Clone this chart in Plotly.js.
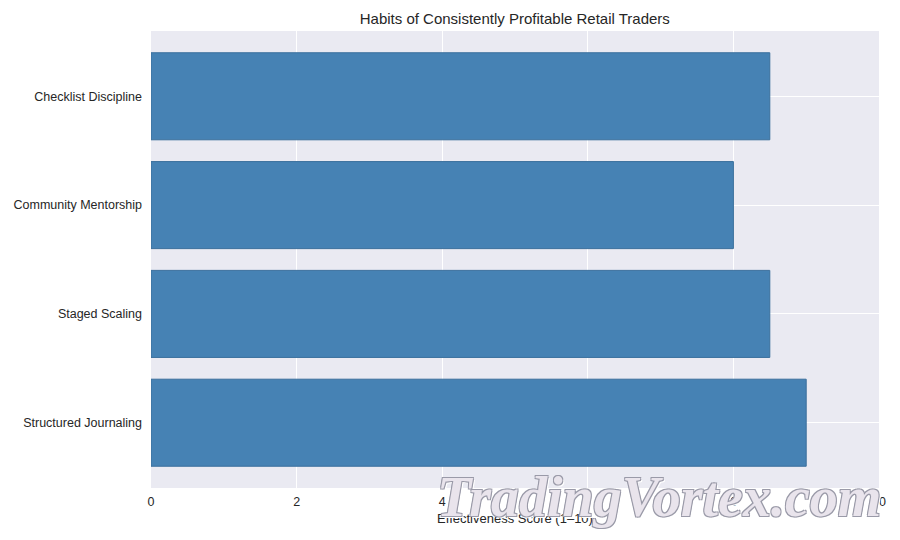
<!DOCTYPE html>
<html>
<head>
<meta charset="utf-8">
<script src="https://cdn.plot.ly/plotly-3.0.1.min.js"></script>
<style>html,body{margin:0;padding:0;background:#fff;}#chart{width:900px;height:540px;}</style>
</head>
<body>
<div id="chart"></div>
<script>
const categories = ["Structured Journaling", "Staged Scaling", "Community Mentorship", "Checklist Discipline"];
const scores = [9.0, 8.5, 8.0, 8.5];
const xTicks = [0, 2, 4, 6, 8, 10];

const trace = {
  type: "bar",
  orientation: "h",
  y: categories,
  x: scores,
  width: 0.8,
  marker: { color: "#4682B4", line: { color: "#3a6f9c", width: 1 } },
  hoverinfo: "x+y"
};

const layout = {
  width: 900, height: 540,
  margin: { l: 151, r: 21, t: 31, b: 52 },
  paper_bgcolor: "#ffffff",
  plot_bgcolor: "#EAEAF2",
  font: { family: "Liberation Sans, Arial, sans-serif", size: 12.5, color: "#262626" },
  title: { text: "Habits of Consistently Profitable Retail Traders", x: 0.572, xanchor: "center", y: 0.965, yanchor: "middle", font: { size: 15, color: "#262626" } },
  bargap: 0.2,
  xaxis: {
    range: [0, 10], tickvals: xTicks, ticktext: xTicks.map(String),
    showgrid: true, gridcolor: "#ffffff", gridwidth: 1, zeroline: false,
    showline: false, ticks: "", ticklabelstandoff: 4,
    title: { text: "Effectiveness Score (1–10)", standoff: 6, font: { size: 13 } }
  },
  yaxis: {
    range: [-0.6, 3.6], type: "category",
    showgrid: true, gridcolor: "#ffffff", gridwidth: 1, zeroline: false,
    showline: false, ticks: "", ticklabelstandoff: 8
  },
  showlegend: false,
  annotations: [{
    text: "<b><i>TradingVortex.com</i></b>", xref: "paper", yref: "paper",
    x: 1.006, y: -0.02, xanchor: "right", yanchor: "middle", showarrow: false,
    font: { family: "Liberation Serif, serif", size: 56, color: "#e9e4ec",
      shadow: "1px 1px 0 #9a9aa8, -1px -1px 0 #9a9aa8, 1px -1px 0 #9a9aa8, -1px 1px 0 #9a9aa8, 2px 2px 0 #ffffff" }
  }]
};

Plotly.newPlot("chart", [trace], layout, { displayModeBar: false, staticPlot: true });
</script>
</body>
</html>
